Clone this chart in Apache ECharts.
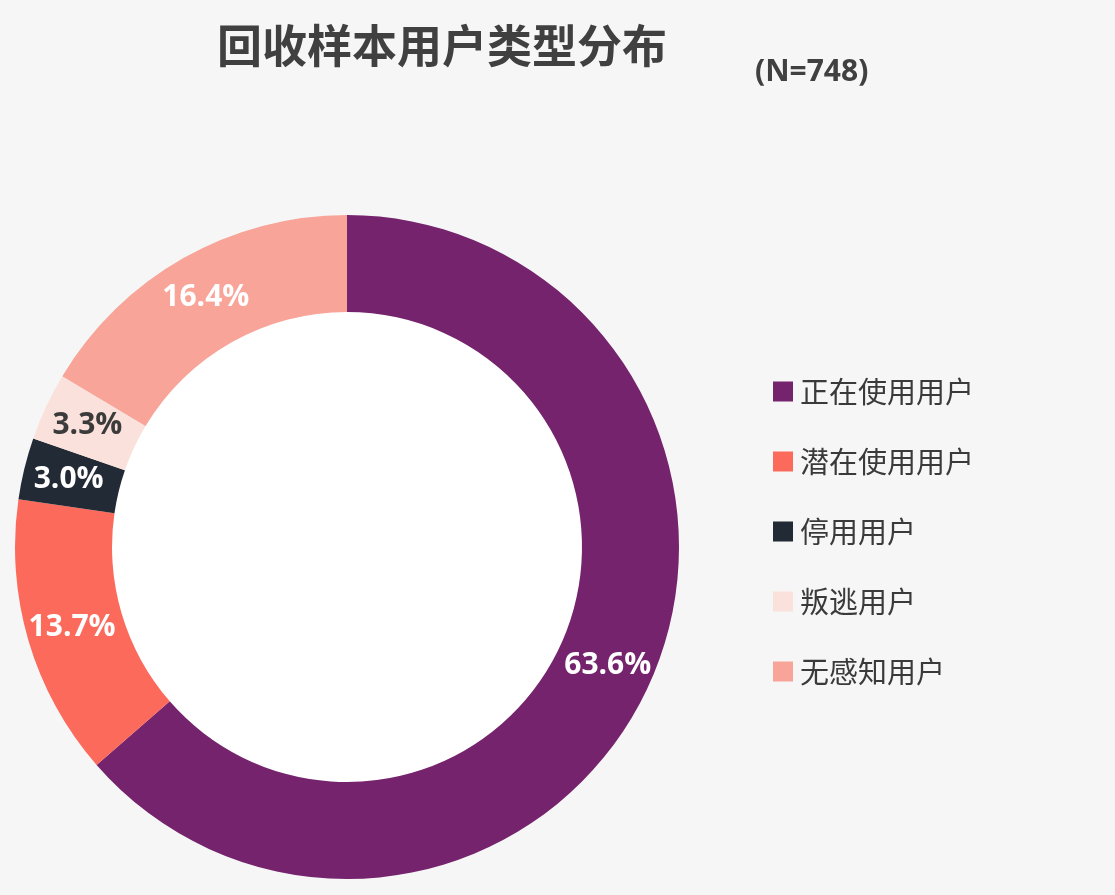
<!DOCTYPE html>
<html>
<head>
<meta charset="utf-8">
<script src="https://cdn.jsdelivr.net/npm/echarts@6/dist/echarts.min.js"></script>
<style>
    html, body { margin: 0; padding: 0; background: #f6f6f6; }
    #main { width: 1115px; height: 895px; }
</style>
</head>
<body>
<div id="main"></div>
<script type="text/javascript">

    // 数据
    var categories = ["正在使用用户", "潜在使用用户", "停用用户", "叛逃用户", "无感知用户"];
    var shares = [63.6, 13.7, 3.0, 3.3, 16.4];
    var colors = ['#74236C', '#FB6A5B', '#222B35', '#FBE1DB', '#F8A499'];
    var labelColors = ['#fff', '#fff', '#fff', '#3b3b3b', '#fff'];

    var chart = echarts.init(document.getElementById('main'));

    var pieData = [];
    for (var i = 0; i < categories.length; i++) {
        pieData.push({
            name: categories[i],
            value: shares[i],
            itemStyle: { color: colors[i] },
            label: { color: labelColors[i] }
        });
    }

    var option = {
        backgroundColor: '#f6f6f6',
        title: [{
            text: "回收样本用户类型分布",
            left: 212,
            top: 18,
            textStyle: {
                fontFamily: 'Noto Sans CJK SC',
                fontSize: 45,
                fontWeight: 'bold',
                color: '#404040'
            }
        }, {
            text: "(N=748)",
            left: 750,
            top: 52,
            textStyle: {
                fontFamily: 'Open Sans',
                fontSize: 30,
                fontWeight: 'bold',
                color: '#404040'
            }
        }],
        legend: {
            orient: 'vertical',
            left: 768,
            top: 371,
            itemWidth: 20,
            itemHeight: 20,
            itemGap: 39,
            icon: 'rect',
            data: categories,
            textStyle: {
                fontFamily: 'Noto Sans CJK SC',
                fontSize: 29,
                lineHeight: 31,
                color: '#3a3a3a',
                padding: [0, 0, 0, 2]
            }
        },
        series: [{
            // 中间白色圆
            type: 'pie',
            silent: true,
            center: [347, 547],
            radius: [0, 235],
            label: { show: false },
            data: [{ value: 1, name: 'bg', itemStyle: { color: '#ffffff' } }]
        }, {
            name: "用户类型",
            type: 'pie',
            center: [347, 547],
            radius: [235, 332],
            startAngle: 90,
            clockwise: true,
            avoidLabelOverlap: false,
            label: {
                show: true,
                position: 'inside',
                formatter: function (p) { return p.value.toFixed(1) + '%'; },
                fontFamily: 'Open Sans',
                fontSize: 30,
                fontWeight: 'bold'
            },
            labelLine: { show: false },
            data: pieData
        }]
    };

    chart.setOption(option);
</script>
</body>
</html>
